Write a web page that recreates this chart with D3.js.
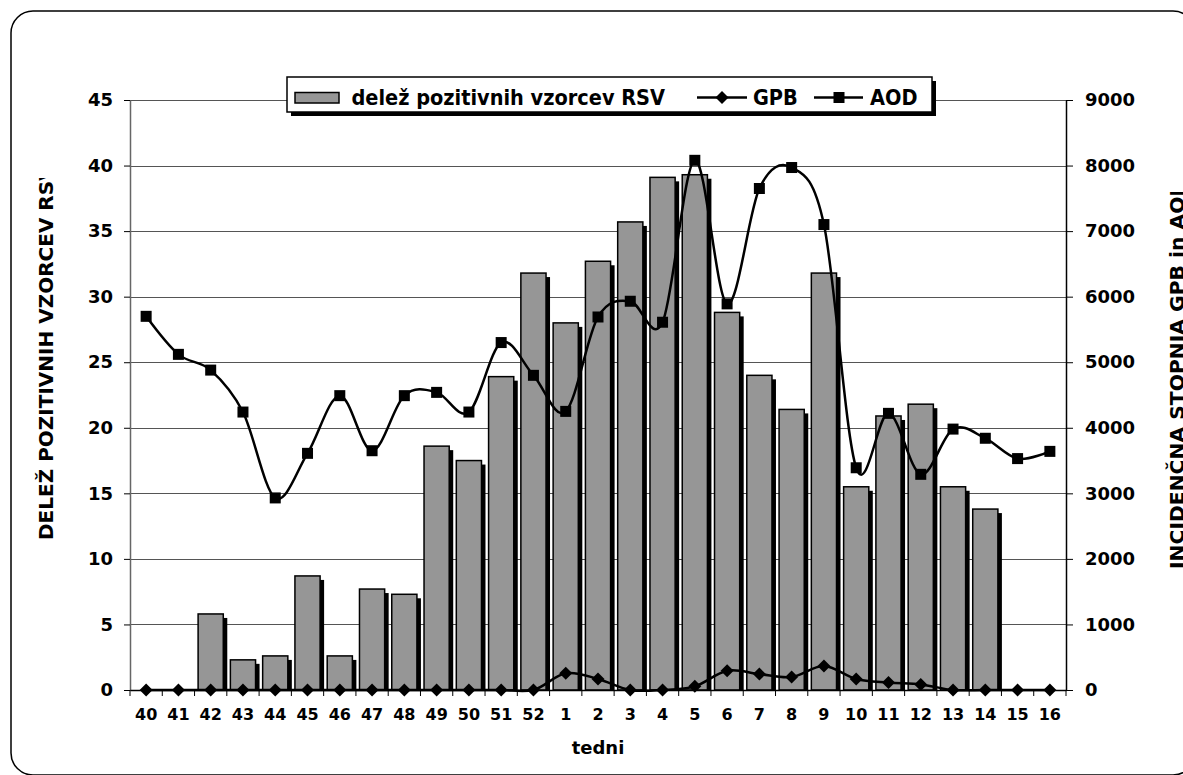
<!DOCTYPE html>
<html>
<head>
<meta charset="utf-8">
<script src="https://cdn.jsdelivr.net/npm/d3@7"></script>
<style>
body { margin: 0; background: #fff; }
svg text { font-family: "DejaVu Sans", Verdana, sans-serif; font-weight: bold; fill: #000; }
</style>
</head>
<body>
<div id="chart"></div>
<script>
// weeks (tedni), season 40 -> 16
var weeks = ["40","41","42","43","44","45","46","47","48","49","50","51","52",
             "1","2","3","4","5","6","7","8","9","10","11","12","13","14","15","16"];
// delež pozitivnih vzorcev RSV (%), left axis
var rsvShare = [0, 0, 5.8, 2.3, 2.6, 8.7, 2.6, 7.7, 7.3, 18.6, 17.5, 23.9, 31.8,
                28.0, 32.7, 35.7, 39.1, 39.3, 28.8, 24.0, 21.4, 31.8, 15.5, 20.9, 21.8, 15.5, 13.8, 0, 0];
// incidenčna stopnja GPB, right axis
var gpbRate = [0, 0, 0, 0, 0, 0, 0, 0, 0, 0, 0, 0, 0,
               254, 169, 0, 0, 56, 294, 243, 198, 367, 169, 113, 85, 0, 0, 0, 0];
// incidenčna stopnja AOD, right axis
var aodRate = [5700, 5120, 4880, 4240, 2930, 3610, 4490, 3650, 4490, 4540, 4240, 5300, 4800,
               4250, 5690, 5930, 5610, 8080, 5890, 7650, 7970, 7100, 3390, 4220, 3290, 3980, 3840, 3530, 3640];
var leftTicks = [0, 5, 10, 15, 20, 25, 30, 35, 40, 45];
var rightTicks = [0, 1000, 2000, 3000, 4000, 5000, 6000, 7000, 8000, 9000];

var W = 1183, H = 775;
var plot = { left: 130, right: 1066, top: 100, bottom: 690 };

var svg = d3.select("#chart").append("svg")
    .attr("width", W)
    .attr("height", H);

// chart frame (rounded, runs off the bottom/right of the picture)
svg.append("rect")
    .attr("x", 11).attr("y", 11)
    .attr("width", 1184).attr("height", 764)
    .attr("rx", 22)
    .attr("fill", "#fff")
    .attr("stroke", "#000")
    .attr("stroke-width", 1.5);

var x = d3.scaleBand().domain(weeks).range([plot.left, plot.right]);
var yL = d3.scaleLinear().domain([0, 45]).range([plot.bottom, plot.top]);
var yR = d3.scaleLinear().domain([0, 9000]).range([plot.bottom, plot.top]);
var bw = x.bandwidth();
var barW = bw * 0.78;

// gridlines
svg.append("g").selectAll("line")
    .data(leftTicks)
    .join("line")
    .attr("x1", plot.left).attr("x2", plot.right)
    .attr("y1", function(d) { return Math.round(yL(d)) + 0.5; })
    .attr("y2", function(d) { return Math.round(yL(d)) + 0.5; })
    .attr("stroke", "#555")
    .attr("stroke-width", 1);

// bars with shadow
var barData = weeks.map(function(w, i) { return { week: w, v: rsvShare[i] }; })
    .filter(function(d) { return d.v > 0; });

var bars = svg.append("g");
bars.selectAll(".shadow")
    .data(barData)
    .join("rect")
    .attr("class", "shadow")
    .attr("x", function(d) { return x(d.week) + (bw - barW) / 2 + 4; })
    .attr("y", function(d) { return yL(d.v) + 4; })
    .attr("width", barW)
    .attr("height", function(d) { return yL(0) - yL(d.v) - 4; })
    .attr("fill", "#000");
bars.selectAll(".bar")
    .data(barData)
    .join("rect")
    .attr("class", "bar")
    .attr("x", function(d) { return x(d.week) + (bw - barW) / 2; })
    .attr("y", function(d) { return yL(d.v); })
    .attr("width", barW)
    .attr("height", function(d) { return yL(0) - yL(d.v); })
    .attr("fill", "#969696")
    .attr("stroke", "#000")
    .attr("stroke-width", 1.5);

// axes
var leftAxis = svg.append("g")
    .attr("transform", "translate(" + plot.left + ",0)")
    .call(d3.axisLeft(yL).tickValues(leftTicks).tickSize(6).tickSizeOuter(0).tickPadding(11));
leftAxis.select(".domain").attr("stroke", "#666").attr("stroke-width", 1.5);
leftAxis.selectAll(".tick line").attr("stroke", "#000");
leftAxis.selectAll("text").style("font-size", "18px");

var rightAxis = svg.append("g")
    .attr("transform", "translate(" + plot.right + ",0)")
    .call(d3.axisRight(yR).tickValues(rightTicks).tickFormat(d3.format("d"))
        .tickSize(7).tickSizeOuter(0).tickPadding(12));
rightAxis.select(".domain").attr("stroke", "#000").attr("stroke-width", 1.5);
rightAxis.selectAll(".tick line").attr("stroke", "#000");
rightAxis.selectAll("text").style("font-size", "18px");

var xAxis = svg.append("g")
    .attr("transform", "translate(0," + plot.bottom + ")")
    .call(d3.axisBottom(x).tickSize(0).tickPadding(19));
xAxis.select(".domain").attr("stroke", "#000").attr("stroke-width", 1.5);
xAxis.selectAll("text").style("font-size", "16px");

// category boundary ticks
svg.append("g").selectAll("line")
    .data(weeks.map(function(w) { return x(w); }).concat([x.range()[1]]))
    .join("line")
    .attr("x1", function(d) { return d; }).attr("x2", function(d) { return d; })
    .attr("y1", plot.bottom).attr("y2", plot.bottom + 6)
    .attr("stroke", "#000");

// smoothed lines
var line = d3.line()
    .x(function(d, i) { return x(weeks[i]) + bw / 2; })
    .y(function(d) { return yR(d); })
    .curve(d3.curveCatmullRom.alpha(0));

[gpbRate, aodRate].forEach(function(series) {
    svg.append("path")
        .datum(series)
        .attr("d", line)
        .attr("fill", "none")
        .attr("stroke", "#000")
        .attr("stroke-width", 2.5);
});

var diamond = "M0,-6.5L6.5,0L0,6.5L-6.5,0Z";
svg.append("g").selectAll("path")
    .data(gpbRate)
    .join("path")
    .attr("d", diamond)
    .attr("transform", function(d, i) { return "translate(" + (x(weeks[i]) + bw / 2) + "," + yR(d) + ")"; })
    .attr("fill", "#000");

svg.append("g").selectAll("rect")
    .data(aodRate)
    .join("rect")
    .attr("x", function(d, i) { return x(weeks[i]) + bw / 2 - 5.5; })
    .attr("y", function(d) { return yR(d) - 5.5; })
    .attr("width", 11).attr("height", 11)
    .attr("fill", "#000");

// axis titles (clipped like the original)
var defs = svg.append("defs");
defs.append("clipPath").attr("id", "clipL")
    .append("rect").attr("x", 0).attr("y", 178).attr("width", 120).attr("height", 500);
defs.append("clipPath").attr("id", "clipR")
    .append("rect").attr("x", 1100).attr("y", 192).attr("width", 100).attr("height", 500);

svg.append("g").attr("clip-path", "url(#clipL)")
    .append("text")
    .attr("transform", "translate(53,540) rotate(-90)")
    .style("font-size", "20px")
    .text("DELEŽ POZITIVNIH VZORCEV RSV");

svg.append("g").attr("clip-path", "url(#clipR)")
    .append("text")
    .attr("transform", "translate(1184,569) rotate(-90)")
    .style("font-size", "20.3px")
    .text("INCIDENČNA STOPNJA GPB in AOD");

svg.append("text")
    .attr("x", (plot.left + plot.right) / 2)
    .attr("y", 754)
    .attr("text-anchor", "middle")
    .style("font-size", "18px")
    .text("tedni");

// legend
var legend = svg.append("g");
legend.append("rect")
    .attr("x", 291).attr("y", 81).attr("width", 645).attr("height", 35)
    .attr("fill", "#000");
legend.append("rect")
    .attr("x", 287).attr("y", 77).attr("width", 645).attr("height", 35)
    .attr("fill", "#fff").attr("stroke", "#000").attr("stroke-width", 1.5);
legend.append("rect")
    .attr("x", 295).attr("y", 92.5).attr("width", 44).attr("height", 10.5)
    .attr("fill", "#969696").attr("stroke", "#000").attr("stroke-width", 1.5);

var legendText = legend.append("g")
    .style("font-family", "'DejaVu Sans Condensed', 'DejaVu Sans', sans-serif")
    .style("font-stretch", "condensed");
legendText.append("text").attr("x", 351.5).attr("y", 105).style("font-size", "21.5px")
    .text("delež pozitivnih vzorcev RSV");
legendText.append("text").attr("x", 753).attr("y", 105).style("font-size", "21.5px")
    .text("GPB");
legendText.append("text").attr("x", 870).attr("y", 105).style("font-size", "21.5px")
    .text("AOD");

legend.append("line").attr("x1", 697).attr("x2", 747).attr("y1", 97.5).attr("y2", 97.5)
    .attr("stroke", "#000").attr("stroke-width", 2.5);
legend.append("path").attr("d", diamond).attr("transform", "translate(722,97.5)").attr("fill", "#000");
legend.append("line").attr("x1", 814).attr("x2", 863).attr("y1", 97.5).attr("y2", 97.5)
    .attr("stroke", "#000").attr("stroke-width", 2.5);
legend.append("rect").attr("x", 833.5).attr("y", 92).attr("width", 11).attr("height", 11).attr("fill", "#000");
</script>
</body>
</html>
